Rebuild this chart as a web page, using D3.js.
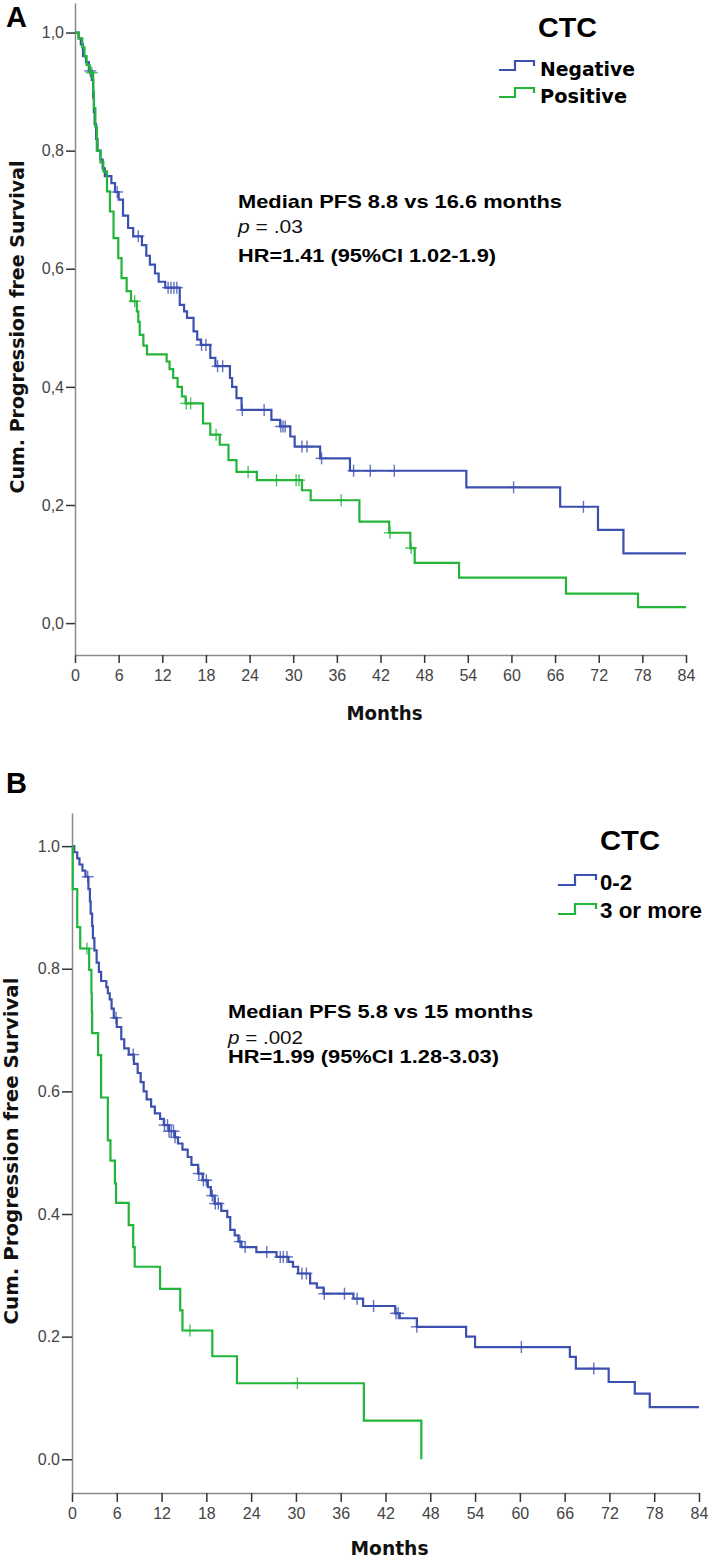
<!DOCTYPE html>
<html><head><meta charset="utf-8">
<script src="https://cdn.jsdelivr.net/npm/d3@7"></script>
<style>body{margin:0;background:#fff}</style>
</head><body>
<svg id="c" width="709" height="1561"></svg>
<script>
// ---------- data ----------
const monthTicks = [0,6,12,18,24,30,36,42,48,54,60,66,72,78,84];
const survTicks = [0,0.2,0.4,0.6,0.8,1.0];
const survTickLabelsA = ["0,0","0,2","0,4","0,6","0,8","1,0"];
const survTickLabelsB = ["0.0","0.2","0.4","0.6","0.8","1.0"];
const legendTitle = "CTC";
const legendA = ["Negative","Positive"];
const legendB = ["0-2","3 or more"];
const statsA = ["Median PFS 8.8 vs 16.6 months", ".03", "HR=1.41 (95%CI 1.02-1.9)"];
const statsB = ["Median PFS 5.8 vs 15 months", ".002", "HR=1.99 (95%CI 1.28-3.03)"];

// Panel A, CTC negative
const negTimesA = [0.5,0.8,1.1,1.5,1.9,2.3,2.5,2.6,2.7,2.9,3.1,3.5,3.8,4.1,5.0,5.5,6.0,6.6,7.3,8.0,9.2,9.8,10.3,11.0,11.5,12.4,14.4,15.0,15.4,16.3,16.8,17.3,18.6,19.3,21.3,21.6,22.2,22.9,27.0,28.2,29.6,30.2,33.7,37.8,53.8,66.7,71.9,75.4];
const negSurvA  = [0.99,0.98,0.96,0.95,0.935,0.92,0.89,0.865,0.845,0.82,0.80,0.785,0.77,0.757,0.745,0.73,0.717,0.69,0.669,0.655,0.64,0.622,0.607,0.592,0.578,0.568,0.539,0.528,0.517,0.494,0.48,0.471,0.449,0.435,0.415,0.40,0.381,0.361,0.344,0.333,0.316,0.299,0.279,0.258,0.23,0.197,0.158,0.118];
const negCensA  = [2.1,5.8,8.7,12.8,13.2,13.6,14.0,17.4,18.0,19.6,20.3,23.0,26.0,28.3,28.6,28.9,31.2,31.9,33.9,38.3,40.6,43.9,60.3,69.9];
// Panel A, CTC positive
const posTimesA = [0.5,1.0,1.3,1.6,2.0,2.5,2.6,2.8,3.0,3.5,3.9,4.4,4.8,5.3,5.95,6.4,7.1,7.7,8.5,8.7,8.9,9.4,9.9,12.6,13.0,13.5,14.1,14.7,15.2,17.6,18.6,19.9,21.1,22.2,25.0,31.2,32.4,39.1,43.2,46.1,46.7,52.8,67.5,77.4];
const posSurvA  = [0.99,0.975,0.96,0.945,0.932,0.90,0.872,0.84,0.80,0.78,0.765,0.731,0.697,0.652,0.618,0.584,0.562,0.545,0.528,0.51,0.488,0.47,0.455,0.443,0.43,0.415,0.40,0.384,0.372,0.338,0.319,0.302,0.276,0.256,0.242,0.225,0.208,0.172,0.153,0.127,0.102,0.077,0.05,0.027];
const posCensA  = [2.3,8.2,15.3,15.9,19.4,23.8,27.7,30.4,30.8,36.6,43.3,46.2];

// Panel B, CTC 0-2
const lowTimesB = [0.3,0.7,1.0,1.4,1.8,2.2,2.4,2.5,2.7,2.8,3.0,3.3,3.6,3.9,4.6,4.8,5.05,5.3,5.6,6.0,6.6,7.0,7.6,8.3,8.8,9.2,9.6,10.0,10.6,11.1,11.8,12.3,13.0,13.8,14.2,14.8,15.5,16.0,16.9,17.5,18.2,18.6,19.1,20.0,20.8,21.2,21.8,22.3,22.7,24.7,27.4,29.0,29.6,30.3,31.9,32.8,33.7,37.7,39.0,43.3,43.9,46.2,52.8,54.0,66.7,67.5,71.9,75.4,77.4];
const lowSurvB  = [0.99,0.98,0.97,0.96,0.95,0.93,0.91,0.89,0.87,0.85,0.83,0.81,0.795,0.78,0.77,0.76,0.75,0.735,0.72,0.705,0.685,0.67,0.66,0.645,0.63,0.615,0.60,0.587,0.575,0.564,0.555,0.545,0.535,0.525,0.515,0.505,0.493,0.48,0.466,0.455,0.444,0.43,0.417,0.405,0.395,0.374,0.365,0.355,0.346,0.338,0.33,0.322,0.314,0.303,0.287,0.28,0.27,0.262,0.25,0.238,0.23,0.216,0.2,0.183,0.167,0.148,0.126,0.107,0.085];
const lowCensB  = [2.1,5.9,8.2,12.4,12.8,13.0,13.3,13.6,13.8,17.0,17.6,18.0,18.8,19.2,19.6,22.5,23.2,26.1,27.9,28.3,28.8,30.8,31.4,33.8,36.5,38.2,40.4,43.4,43.7,46.2,60.2,69.9];
// Panel B, CTC 3 or more
const highTimesB = [0.1,0.7,1.1,2.3,2.6,2.65,2.7,3.5,3.9,4.8,5.15,5.75,5.9,7.6,8.2,8.4,11.8,14.5,14.8,18.8,22.1,39.1,46.8];
const highSurvB  = [0.93,0.868,0.833,0.798,0.76,0.73,0.695,0.659,0.59,0.52,0.487,0.45,0.418,0.382,0.346,0.314,0.278,0.243,0.21,0.168,0.124,0.063,0.0];
const highCensB  = [2.0,15.8,30.2];

// ---------- drawing ----------
const BLUE = "#3c50b0", GREEN = "#22b53a";
const svg = d3.select("#c");
svg.append("rect").attr("width",709).attr("height",1561).attr("fill","#fff");

function survAt(times, surv, t){ let s=1; for(let i=0;i<times.length;i++){ if(times[i]<=t) s=surv[i]; } return s; }

function panel(cfg){
  const g = svg.append("g");
  const x = d3.scaleLinear().domain([0,84]).range([cfg.x0, cfg.x1]);
  const y = d3.scaleLinear().domain([cfg.yMin, cfg.yMax]).range([cfg.yAxis, cfg.yTop]);

  const xa = g.append("g").attr("transform",`translate(0,${cfg.yAxis})`)
    .call(d3.axisBottom(x).tickValues(monthTicks).tickSize(cfg.xTick).tickSizeOuter(0).tickPadding(cfg.xPad));
  const ya = g.append("g").attr("transform",`translate(${cfg.x0},0)`)
    .call(d3.axisLeft(y).tickValues(survTicks).tickSize(cfg.yTick).tickSizeOuter(0).tickPadding(2)
      .tickFormat((d,i)=>cfg.yLabels[i]));
  [xa,ya].forEach(a=>{
    a.select(".domain").attr("stroke","#8a8a8a").attr("stroke-width",1.5);
    a.selectAll(".tick line").attr("stroke","#333").attr("stroke-width",1.5);
    a.selectAll(".tick text").attr("fill","#444").attr("font-family","'Liberation Sans',Arial,sans-serif").attr("font-size",16);
  });

  const line = d3.line().x(d=>x(d[0])).y(d=>y(d[1])).curve(d3.curveStepAfter);
  cfg.series.forEach(s=>{
    const pts = [[0,1]].concat(s.times.map((t,i)=>[t,s.surv[i]]));
    if (s.end!=null) pts.push([s.end, s.surv[s.surv.length-1]]);
    g.append("path").attr("d",line(pts)).attr("fill","none").attr("stroke",s.color).attr("stroke-width",2.2);
    const cg = g.append("g").attr("stroke",s.color).attr("stroke-width",1.4).attr("opacity",0.8);
    s.cens.forEach(t=>{
      const cx = x(t), cy = y(survAt(s.times,s.surv,t));
      cg.append("line").attr("x1",cx).attr("x2",cx).attr("y1",cy-6).attr("y2",cy+6);
      cg.append("line").attr("x1",cx-6).attr("x2",cx+6).attr("y1",cy).attr("y2",cy);
    });
  });

  g.append("text").attr("x",cfg.letterX).attr("y",cfg.letterY).text(cfg.letter)
    .attr("font-family","'Liberation Sans',Arial,sans-serif").attr("font-weight","bold").attr("font-size",29).attr("fill","#000");

  g.append("text").attr("transform",`translate(${cfg.ylabX},${cfg.ylabY}) rotate(-90)`)
    .attr("text-anchor","middle").text("Cum. Progression free Survival")
    .attr("font-family","'DejaVu Sans',Verdana,sans-serif").attr("font-weight","bold").attr("font-size",20)
    .attr("textLength",cfg.ylabLen).attr("lengthAdjust","spacingAndGlyphs").attr("fill","#111");
  g.append("text").attr("x",(cfg.x0+cfg.x1)/2+4).attr("y",cfg.xlabY).attr("text-anchor","middle").text("Months")
    .attr("font-family","'DejaVu Sans',Verdana,sans-serif").attr("font-weight","bold").attr("font-size",20)
    .attr("textLength",cfg.xlabLen).attr("lengthAdjust","spacingAndGlyphs").attr("fill","#111");

  const af = "'Liberation Sans',Arial,sans-serif";
  g.append("text").attr("x",cfg.annX).attr("y",cfg.annY[0]).text(cfg.stats[0])
    .attr("font-family",af).attr("font-weight","bold").attr("font-size",19)
    .attr("textLength",cfg.annLen[0]).attr("lengthAdjust","spacingAndGlyphs");
  const pt = g.append("text").attr("x",cfg.annX).attr("y",cfg.annY[1])
    .attr("font-family",af).attr("font-size",19).attr("fill","#111");
  pt.append("tspan").attr("font-style","italic").text("p");
  pt.append("tspan").text(" = " + cfg.stats[1]);
  pt.attr("textLength",cfg.annLen[1]).attr("lengthAdjust","spacingAndGlyphs");
  g.append("text").attr("x",cfg.annX).attr("y",cfg.annY[2]).text(cfg.stats[2])
    .attr("font-family",af).attr("font-weight","bold").attr("font-size",19)
    .attr("textLength",cfg.annLen[2]).attr("lengthAdjust","spacingAndGlyphs");

  const L = cfg.leg;
  g.append("text").attr("x",L.titleX).attr("y",L.titleY).text(legendTitle)
    .attr("font-family",af).attr("font-weight","bold").attr("font-size",L.titleSize)
    .attr("textLength",L.titleLen).attr("lengthAdjust","spacingAndGlyphs");
  cfg.series.forEach((s,i)=>{
    const by = L.rowY[i];
    const p = d3.path();
    p.moveTo(L.symX0, by); p.lineTo(L.symXm, by); p.lineTo(L.symXm, by-L.symH);
    p.lineTo(L.symX1, by-L.symH); p.lineTo(L.symX1, by-L.symH+L.symDrop);
    g.append("path").attr("d",p.toString()).attr("fill","none").attr("stroke",s.color).attr("stroke-width",2.2);
    g.append("text").attr("x",L.textX).attr("y",L.textY[i]).text(cfg.legNames[i])
      .attr("font-family",L.font).attr("font-weight","bold").attr("font-size",L.size)
      .attr("textLength",L.textLen[i]).attr("lengthAdjust","spacingAndGlyphs");
  });
}

panel({
  letter:"A", letterX:6, letterY:27,
  x0:75, x1:686, yTop:3, yAxis:655, yMin:-0.054, yMax:1.05, xTick:8, yTick:9, xPad:7,
  yLabels: survTickLabelsA,
  ylabX:24, ylabY:327, ylabLen:333, xlabY:720, xlabLen:76,
  stats: statsA, annX:238, annY:[208,233,262], annLen:[324,65,258],
  legNames: legendA,
  leg:{titleX:538, titleY:37, titleSize:27, titleLen:59, font:"'DejaVu Sans',Verdana,sans-serif", size:19,
       textX:540, textY:[76,103], textLen:[95,87], rowY:[70,97], symX0:499, symXm:515, symX1:534, symH:9, symDrop:5},
  series:[
    {times:negTimesA, surv:negSurvA, cens:negCensA, color:BLUE, end:84},
    {times:posTimesA, surv:posSurvA, cens:posCensA, color:GREEN, end:84}
  ]
});

panel({
  letter:"B", letterX:6, letterY:793,
  x0:72, x1:699, yTop:813, yAxis:1493, yMin:-0.055, yMax:1.054, xTick:9, yTick:10, xPad:6,
  yLabels: survTickLabelsB,
  ylabX:18, ylabY:1151, ylabLen:347, xlabY:1555, xlabLen:78,
  stats: statsB, annX:228, annY:[1018,1044,1063], annLen:[305,75,271],
  legNames: legendB,
  leg:{titleX:600, titleY:850, titleSize:28, titleLen:60, font:"'Liberation Sans',Arial,sans-serif", size:22,
       textX:600, textY:[890,918], textLen:[32,102], rowY:[885,914], symX0:558, symXm:575, symX1:596, symH:10, symDrop:5},
  series:[
    {times:lowTimesB, surv:lowSurvB, cens:lowCensB, color:BLUE, end:84},
    {times:highTimesB, surv:highSurvB, cens:highCensB, color:GREEN, end:null}
  ]
});
</script>
</body></html>
